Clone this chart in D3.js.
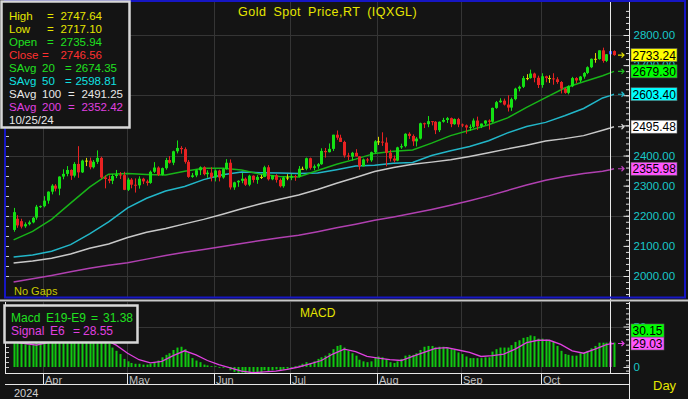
<!DOCTYPE html>
<html>
<head>
<meta charset="utf-8">
<script src="https://cdn.jsdelivr.net/npm/d3@7"></script>
<style>
html, body { margin: 0; padding: 0; background: #141414; }
svg { display: block; font-family: "Liberation Sans", Arial, sans-serif; }
</style>
</head>
<body>
<svg id="chart" width="688" height="399"></svg>
<script>
// Gold spot, daily bars Mar 20 - Oct 28 2024 (weekdays, "No Gaps")
var firstDay = new Date(Date.UTC(2024, 2, 20));
var endDay = new Date(Date.UTC(2024, 9, 29));   // exclusive
var cursorDay = 157;                              // 10/25/24

var open = [2153,2190,2182,2165,2172,2178,2194,2230,
  2232,2250,2280,2300,2290,2330,2339,2352,2333,2372,2344,2383,2383,2361,2379,2392,2327,2322,2316,2332,2337,2335,
  2286,2320,2303,2301,2323,2314,2309,2346,2360,2336,2358,2385,2376,2414,2425,2421,2379,2329,2334,2351,2361,2338,2343,
  2327,2350,2327,2355,2376,2294,2311,2316,2323,2303,2333,2319,2329,2329,2361,2321,2334,2319,2298,2327,
  2326,2332,2330,2356,2356,2391,2359,2364,2371,2415,2411,2422,2469,2459,2445,2400,2396,2409,2397,2364,2387,2384,2411,
  2447,2446,2443,2409,2390,2383,2427,2431,2472,2465,2447,2456,2507,2504,2514,2512,2484,2512,2518,2524,2504,2521,
  2503,2500,2493,2495,2516,2497,2506,2516,2512,2558,2577,2582,2569,2559,2587,2622,2628,2657,2657,2672,2658,
  2634,2663,2657,2656,2653,2644,2622,2608,2630,2657,2649,2662,2674,2693,2721,2720,2749,2714,2735.94,2746.56];
var high = [2226,2202,2190,2178,2184,2196,2236,2234,
  2265,2281,2305,2305,2331,2354,2365,2354,2378,2431,2386,2392,2393,2385,2417,2396,2334,2334,2338,2352,2345,2346,
  2326,2325,2324,2331,2326,2320,2350,2378,2364,2360,2392,2398,2416,2450,2431,2427,2385,2342,2354,2364,2364,2351,2361,
  2354,2353,2359,2388,2387,2313,2318,2342,2327,2336,2334,2335,2336,2366,2368,2335,2338,2324,2331,2338,
  2339,2336,2365,2363,2393,2393,2370,2375,2424,2425,2440,2469,2483,2469,2449,2409,2412,2421,2398,2390,2392,2413,2451,
  2462,2477,2460,2419,2400,2429,2439,2474,2477,2470,2461,2509,2509,2531,2514,2514,2513,2525,2528,2526,2523,2525,
  2506,2503,2503,2523,2529,2506,2517,2520,2559,2581,2590,2589,2600,2592,2625,2632,2664,2670,2685,2675,2665,
  2673,2665,2666,2673,2660,2647,2625,2633,2661,2660,2664,2677,2696,2722,2740,2749,2758,2737,2747.64,2749];
var low = [2147,2160,2158,2160,2168,2175,2187,2226,
  2228,2240,2271,2281,2268,2321,2331,2319,2327,2326,2342,2365,2354,2357,2372,2323,2291,2308,2305,2325,2322,2285,
  2282,2291,2277,2290,2305,2300,2306,2342,2332,2334,2353,2373,2368,2407,2406,2373,2326,2326,2328,2335,2334,2326,2314,
  2314,2314,2323,2353,2287,2286,2296,2308,2299,2298,2310,2306,2322,2328,2317,2318,2310,2294,2293,2318,
  2318,2316,2327,2352,2351,2353,2351,2356,2369,2393,2410,2415,2452,2445,2393,2385,2383,2397,2353,2364,2376,2379,2407,
  2435,2432,2364,2380,2377,2381,2422,2427,2455,2432,2430,2453,2491,2494,2500,2471,2478,2509,2508,2494,2502,2494,
  2494,2472,2482,2491,2485,2491,2501,2486,2509,2555,2575,2566,2546,2548,2583,2613,2624,2650,2655,2643,2624,
  2625,2643,2641,2635,2638,2606,2605,2603,2627,2640,2643,2655,2670,2690,2708,2718,2708,2710,2717.10,2731];
var close = [2212,2168,2164,2172,2178,2193,2230,2232,
  2250,2280,2300,2290,2330,2339,2352,2333,2372,2344,2383,2383,2361,2379,2392,2327,2322,2316,2332,2337,2335,2286,
  2320,2303,2301,2323,2314,2309,2346,2360,2336,2358,2385,2376,2414,2425,2421,2379,2329,2334,2351,2361,2338,2343,2327,
  2350,2327,2355,2376,2294,2311,2316,2323,2303,2333,2319,2329,2329,2361,2321,2334,2319,2298,2327,2326,
  2332,2330,2356,2356,2391,2359,2364,2371,2415,2411,2422,2469,2459,2445,2400,2396,2409,2397,2364,2387,2384,2411,2447,
  2446,2443,2409,2390,2383,2427,2431,2472,2465,2447,2456,2507,2504,2514,2512,2484,2512,2518,2524,2504,2521,2503,
  2500,2493,2495,2516,2497,2506,2516,2512,2558,2577,2582,2569,2559,2587,2622,2628,2657,2657,2672,2658,2634,
  2663,2657,2656,2653,2644,2622,2608,2630,2657,2649,2662,2674,2693,2721,2720,2749,2714,2736,2746.56,2733.24];

// simple averages, read every 5th bar plus the last two
var sma20 = [2120,2148,2188,2242,2295,2338,2340,2337,2335,2348,2358,2358,2352,2338,2330,2329,2350,2371,2388,2407,
  2414,2418,2441,2466,2484,2502,2525,2560,2592,2624,2645,2665,2674.35,2679.30];
var sma50 = [2063,2070,2082,2104,2140,2180,2226,2258,2282,2297,2320,2336,2345,2343,2342,2340,2342,2353,2365,2368,
  2374,2377,2400,2416,2430,2449,2475,2496,2510,2532,2556,2591,2598.81,2603.40];
var sma100 = [2043,2050,2059,2073,2092,2106,2128,2145,2158,2173,2188,2205,2223,2240,2255,2269,2287,2308,2327,2347,
  2360,2371,2378,2386,2397,2409,2422,2434,2448,2456,2466,2484,2491.25,2495.48];
var sma200 = [1980,1991,2002,2014,2026,2036,2044,2056,2068,2079,2088,2098,2108,2118,2127,2135,2147,2160,2172,2185,
  2196,2208,2221,2235,2250,2266,2284,2302,2318,2330,2340,2348,2352.42,2355.98];

// MACD E19-E9, one per bar
var macd = [34,33,30,28,27,27,30,32,
  33,35,38,39,41,42,43,41,42,39,40,39,36,34,34,
  31,30,29,24,20,16,10,
  7,5,4,4,3,3,4,6,8,12,
  15,17,21,24,25,22,17,11,8,6,
  3,2,1,1,-1,-1,0,
  -4,-6,-7,-7,-8,-7,-8,-8,-7,-4,-5,-4,-3,-4,-3,-2,-1,
  1,2,4,6,5,7,10,12,14,17,22,26,27,24,20,17,14,9,7,6,7,12,13,12,10,6,5,7,10,14,
  15,15,17,21,25,26,26,24,25,25,24,22,21,18,16,13,11,11,11,11,12,12,19,22,24,24,24,
  27,31,33,36,37,39,38,35,35,34,33,31,26,20,16,15,14,14,17,18,20,23,26,30,30,30,31.38,30.15];
// Signal E6, read every 3rd bar plus the last two
var signal = [31,29,27,30,35,39,40,38,34,27,17,9,5,7,14,20,15,8,3,-1,
  -5,-7,-6,-5,-3,0,4,8,16,22,19,13,11,9,8,13,18,23,24,21,
  18,13,14,16,22,30,33,33,28,20,17,22,27.5,28.55,29.03];

var priceTicks = [2000, 2100, 2200, 2300, 2400, 2500, 2600, 2700, 2800];
var priceGrid = [2000, 2200, 2400, 2600, 2800];
var macdTicks = [0, 50];
var monthNames = ["Jan","Feb","Mar","Apr","May","Jun","Jul","Aug","Sep","Oct","Nov","Dec"];

// ---------------------------------------------------------------
var dates = d3.utcDays(firstDay, endDay).filter(function(d) { return d.getUTCDay() % 6 !== 0; });
var last = dates.length - 1;
var maIdx = d3.range(0, 156, 5).concat([157, 158]);
var sigIdx = d3.range(0, 157, 3).concat([157, 158]);

var svg = d3.select("#chart");
var axisX = 629.5;
var gridCol = "#353535";

var x = d3.scalePoint().domain(d3.range(dates.length)).range([13.6, 614]);
var y = d3.scaleLinear().domain([2000, 2800]).range([276, 35]);
var ym = d3.scaleLinear().domain([0, 50]).range([367, 326.5]);

svg.append("rect").attr("width", 688).attr("height", 399).attr("fill", "#141414");

var defs = svg.append("defs");
defs.append("clipPath").attr("id", "clipP").append("rect")
  .attr("x", 6).attr("y", 2).attr("width", axisX - 6).attr("height", 295);
defs.append("clipPath").attr("id", "clipM").append("rect")
  .attr("x", 6).attr("y", 302).attr("width", axisX - 6).attr("height", 71);

var monthStarts = d3.range(1, dates.length).filter(function(i) {
  return dates[i].getUTCMonth() !== dates[i - 1].getUTCMonth();
});

// ---- price panel
var gp = svg.append("g").attr("clip-path", "url(#clipP)");

gp.selectAll(".hg").data(priceGrid).enter().append("line")
  .attr("x1", 6).attr("x2", axisX).attr("y1", function(d) { return Math.round(y(d)) + 0.5; })
  .attr("y2", function(d) { return Math.round(y(d)) + 0.5; })
  .attr("stroke", gridCol);
gp.selectAll(".vg").data(monthStarts).enter().append("line")
  .attr("x1", function(i) { return Math.round(x(i)) - 0.5; })
  .attr("x2", function(i) { return Math.round(x(i)) - 0.5; })
  .attr("y1", 2).attr("y2", 297).attr("stroke", gridCol);

var maLines = [
  {v: sma200, c: "#b040b0"},
  {v: sma100, c: "#c8c8c8"},
  {v: sma50, c: "#22b6c8"},
  {v: sma20, c: "#18b418"}
];
var maLine = d3.line().x(function(d) { return x(d[0]); }).y(function(d) { return y(d[1]); });
maLines.forEach(function(m) {
  gp.append("path")
    .attr("d", maLine(maIdx.map(function(idx, k) { return [idx, m.v[k]]; })))
    .attr("fill", "none").attr("stroke", m.c).attr("stroke-width", 1.5);
});

function candleColor(i) {
  if (i === cursorDay) return "#2848ff";
  var d = close[i] - open[i];
  if (Math.abs(d) < 2) return "#d8d800";
  return d > 0 ? "#14e014" : "#e82222";
}

var candles = gp.selectAll(".cd").data(d3.range(dates.length)).enter().append("g");
candles.append("line")
  .attr("x1", function(i) { return Math.round(x(i)) + 0.5; })
  .attr("x2", function(i) { return Math.round(x(i)) + 0.5; })
  .attr("y1", function(i) { return y(high[i]); })
  .attr("y2", function(i) { return y(low[i]); })
  .attr("stroke", candleColor);
candles.append("rect")
  .attr("x", function(i) { return Math.round(x(i)) - 1; })
  .attr("width", 3)
  .attr("y", function(i) { return y(Math.max(open[i], close[i])); })
  .attr("height", function(i) { return Math.max(1, y(Math.min(open[i], close[i])) - y(Math.max(open[i], close[i]))); })
  .attr("fill", candleColor);

// ---- macd panel
var gm = svg.append("g").attr("clip-path", "url(#clipM)");
gm.append("line").attr("x1", 6).attr("x2", axisX)
  .attr("y1", Math.round(ym(50)) + 0.5).attr("y2", Math.round(ym(50)) + 0.5).attr("stroke", gridCol);
gm.selectAll(".vg").data(monthStarts).enter().append("line")
  .attr("x1", function(i) { return Math.round(x(i)) - 0.5; })
  .attr("x2", function(i) { return Math.round(x(i)) - 0.5; })
  .attr("y1", 302).attr("y2", 373).attr("stroke", gridCol);

gm.selectAll(".mb").data(macd).enter().append("rect")
  .attr("x", function(d, i) { return Math.round(x(i)) - 0.5; })
  .attr("width", 2)
  .attr("y", function(d) { return ym(Math.max(d, 0)); })
  .attr("height", function(d) { return Math.abs(ym(d) - ym(0)); })
  .attr("fill", function(d, i) { return i === cursorDay ? "#e040e0" : "#10c810"; });

gm.append("path")
  .attr("d", d3.line().x(function(d) { return x(d[0]); }).y(function(d) { return ym(d[1]); })
    (sigIdx.map(function(idx, k) { return [idx, signal[k]]; })))
  .attr("fill", "none").attr("stroke", "#e040e0").attr("stroke-width", 1.3);

// cursor line
svg.append("line").attr("x1", Math.round(x(cursorDay)) + 0.5).attr("x2", Math.round(x(cursorDay)) + 0.5)
  .attr("y1", 2).attr("y2", 373).attr("stroke", "#e8e8e8");

// ---- frames
var blue = "#1616c4";
svg.append("line").attr("x1", 4).attr("x2", 686).attr("y1", 1).attr("y2", 1).attr("stroke", blue).attr("stroke-width", 2);
svg.append("line").attr("x1", 5).attr("x2", 5).attr("y1", 0).attr("y2", 298).attr("stroke", blue).attr("stroke-width", 2);
svg.append("line").attr("x1", 685).attr("x2", 685).attr("y1", 0).attr("y2", 298).attr("stroke", blue).attr("stroke-width", 2);
svg.append("line").attr("x1", 4).attr("x2", 686).attr("y1", 297.5).attr("y2", 297.5).attr("stroke", blue).attr("stroke-width", 2);
svg.append("line").attr("x1", 0).attr("x2", 688).attr("y1", 300.5).attr("y2", 300.5).attr("stroke", "#c8c8c8").attr("stroke-width", 2);

svg.append("line").attr("x1", 5.5).attr("x2", 5.5).attr("y1", 302).attr("y2", 374).attr("stroke", "#e8e8e8");
svg.append("line").attr("x1", 5).attr("x2", axisX).attr("y1", 373.5).attr("y2", 373.5).attr("stroke", "#e8e8e8");
svg.append("line").attr("x1", axisX).attr("x2", axisX).attr("y1", 2).attr("y2", 297).attr("stroke", "#e8e8e8");
svg.append("line").attr("x1", axisX).attr("x2", axisX).attr("y1", 302).attr("y2", 399).attr("stroke", "#e8e8e8");

// left edge ticks
svg.selectAll(".lt").data(d3.range(276, 4, -10)).enter().append("line")
  .attr("x1", 6).attr("x2", 9).attr("y1", function(d) { return d + 0.5; }).attr("y2", function(d) { return d + 0.5; })
  .attr("stroke", "#c8c8c8");
svg.selectAll(".lt2").data(d3.range(367, 303, -5)).enter().append("line")
  .attr("x1", 6).attr("x2", 9).attr("y1", function(d) { return d + 0.5; }).attr("y2", function(d) { return d + 0.5; })
  .attr("stroke", "#c8c8c8");

// ---- value tags (needed first so covered tick labels can be left out)
var tags = [
  {v: close[last], fill: "#ffff00", a: "#e0e000"},
  {v: sma20[sma20.length - 1], fill: "#00ff00", a: "#20c020"},
  {v: sma50[sma50.length - 1], fill: "#00ffff", a: "#22c0d0"},
  {v: sma100[sma100.length - 1], fill: "#ffffff", a: "#d8d8d8"},
  {v: sma200[sma200.length - 1], fill: "#ff55ff", a: "#c040c0"}
];
function covered(v) {
  return tags.some(function(t) { return Math.abs(y(t.v) - y(v)) < 5; });
}

// ---- right axes
var minorP = d3.range(1860, 2900, 20).filter(function(v) { return y(v) > 3 && y(v) < 296; });
svg.append("g").attr("transform", "translate(" + axisX + ",0)")
  .call(d3.axisRight(y).tickValues(minorP).tickSize(-3.5).tickFormat(""))
  .call(function(g) { g.select(".domain").remove(); g.selectAll("line").attr("stroke", "#e0e0e0"); });
svg.append("g").attr("transform", "translate(" + axisX + ",0)")
  .call(d3.axisRight(y).tickValues(priceTicks).tickSize(-6).tickPadding(4)
    .tickFormat(function(v) { return covered(v) ? "" : d3.format(".2f")(v); }))
  .call(function(g) {
    g.select(".domain").remove();
    g.selectAll("line").attr("stroke", "#e0e0e0");
    g.selectAll("text").attr("fill", "#18c8c8").attr("font-size", "11.5px")
      .attr("font-family", "'Liberation Sans', Arial, sans-serif");
  });

var minorM = d3.range(303, 372, 5.2).map(function(p) { return ym.invert(p); });
svg.append("g").attr("transform", "translate(" + axisX + ",0)")
  .call(d3.axisRight(ym).tickValues(minorM).tickSize(-3.5).tickFormat(""))
  .call(function(g) { g.select(".domain").remove(); g.selectAll("line").attr("stroke", "#e0e0e0"); });
svg.append("g").attr("transform", "translate(" + axisX + ",0)")
  .call(d3.axisRight(ym).tickValues(macdTicks).tickSize(-6).tickPadding(4).tickFormat(d3.format("d")))
  .call(function(g) {
    g.select(".domain").remove();
    g.selectAll("line").attr("stroke", "#e0e0e0");
    g.selectAll("text").attr("fill", "#18c8c8").attr("font-size", "11.5px")
      .attr("font-family", "'Liberation Sans', Arial, sans-serif");
  });

function tag(yy, arrowY, txt, fill, arrowCol, w) {
  if (arrowY !== null) {
    svg.append("path")
      .attr("d", "M618," + arrowY + "h6M621.5," + (arrowY - 2.5) + "l2.5,2.5l-2.5,2.5")
      .attr("stroke", arrowCol).attr("fill", "none").attr("stroke-width", 1.2);
  }
  svg.append("rect").attr("x", 631).attr("y", yy - 6.5).attr("width", w).attr("height", 13)
    .attr("fill", fill).attr("stroke", "#606060").attr("stroke-width", 0.6);
  svg.append("text").attr("x", 632.5).attr("y", yy + 4.5).text(txt)
    .attr("fill", "#000").attr("font-size", "12px");
}
tags.forEach(function(t) { tag(y(t.v), y(t.v), t.v.toFixed(2), t.fill, t.a, 46); });

var sigV = signal[signal.length - 1];
var sigY = ym(sigV);
var macdY = ym(macd[last]);
var macdTagY = Math.abs(macdY - sigY) < 13 ? sigY - 13 : macdY;
tag(sigY, sigY, sigV.toFixed(2), "#ff55ff", "#e040e0", 33);
tag(macdTagY, null, macd[last].toFixed(2), "#00ff00", null, 33);

// ---- date axis
var fmtMonth = function(i) { return monthNames[dates[i].getUTCMonth()]; };
svg.selectAll(".mt").data(monthStarts).enter().append("line")
  .attr("x1", function(i) { return Math.round(x(i)) - 0.5; })
  .attr("x2", function(i) { return Math.round(x(i)) - 0.5; })
  .attr("y1", 373).attr("y2", 385).attr("stroke", "#e8e8e8");
svg.selectAll(".ml").data(monthStarts).enter().append("text")
  .attr("x", function(i) { return Math.round(x(i)) + 1; })
  .attr("y", 384)
  .text(fmtMonth)
  .attr("fill", "#c0c0c0").attr("font-size", "11px");
svg.append("rect").attr("x", 6).attr("y", 385).attr("width", axisX - 6.5).attr("height", 14).attr("fill", "#141414");
svg.append("line").attr("x1", 5).attr("x2", axisX).attr("y1", 384.5).attr("y2", 384.5).attr("stroke", "#e8e8e8");
svg.append("text").attr("x", 14).attr("y", 397).text(d3.utcFormat("%Y")(dates[0]))
  .attr("fill", "#d0d0d0").attr("font-size", "11px");
svg.append("text").attr("x", 653).attr("y", 390).text("Day")
  .attr("fill", "#e6e600").attr("font-size", "13px");

// ---- titles
svg.append("text").attr("x", 238).attr("y", 16).text("Gold Spot Price,RT (IQXGL)")
  .attr("fill", "#e6e600").attr("font-size", "12.5px").attr("letter-spacing", "0.5px").attr("word-spacing", "3px");
svg.append("text").attr("x", 300).attr("y", 317).text("MACD")
  .attr("fill", "#e6e600").attr("font-size", "12px");
svg.append("text").attr("x", 14).attr("y", 295).text("No Gaps")
  .attr("fill", "#c8c800").attr("font-size", "11px");

// ---- price legend
svg.append("rect").attr("x", 1.5).attr("y", 1.5).attr("width", 128).attr("height", 126)
  .attr("fill", "#141414").attr("stroke", "#d8d8d8").attr("stroke-width", 2.5);
var c = cursorDay, k20 = maIdx.indexOf(cursorDay);
var legendRows = [
  {name: "High", num: "", val: high[c], col: "#e6e600"},
  {name: "Low", num: "", val: low[c], col: "#e6e600"},
  {name: "Open", num: "", val: open[c], col: "#20e020"},
  {name: "Close", num: "", val: close[c], col: "#ff3030"},
  {name: "SAvg", num: "20", val: sma20[k20], col: "#20e020"},
  {name: "SAvg", num: "50", val: sma50[k20], col: "#10e0e0"},
  {name: "SAvg", num: "100", val: sma100[k20], col: "#e8e8e8"},
  {name: "SAvg", num: "200", val: sma200[k20], col: "#e040e0"}
];
legendRows.forEach(function(r, i) {
  var by = 19.5 + i * 13.1;
  var eqX = r.num === "" ? (r.name === "Close" ? 42 : 47) : (r.num.length === 3 ? 68 : 65);
  var valEnd = r.num === "" ? 102 : (r.num.length === 3 ? 123 : 117);
  var g = svg.append("g").attr("fill", r.col).attr("font-size", "11.5px");
  g.append("text").attr("x", 9).attr("y", by).text(r.name);
  if (r.num) g.append("text").attr("x", 42).attr("y", by).text(r.num);
  g.append("text").attr("x", eqX).attr("y", by).text("=");
  g.append("text").attr("x", valEnd).attr("y", by).attr("text-anchor", "end").text(r.val.toFixed(2));
});
svg.append("text").attr("x", 9).attr("y", 19.5 + 8 * 13.1).text(d3.utcFormat("%m/%d/%y")(dates[c]))
  .attr("fill", "#e8e8e8").attr("font-size", "11.5px");

// ---- macd legend
svg.append("rect").attr("x", 4.5).attr("y", 305.5).attr("width", 133).attr("height", 37)
  .attr("fill", "#141414").attr("stroke", "#d8d8d8").attr("stroke-width", 2.5);
var ml1 = svg.append("g").attr("fill", "#20e020").attr("font-size", "12px");
ml1.append("text").attr("x", 11).attr("y", 322).text("Macd");
ml1.append("text").attr("x", 46).attr("y", 322).text("E19-E9");
ml1.append("text").attr("x", 91).attr("y", 322).text("=");
ml1.append("text").attr("x", 133).attr("y", 322).attr("text-anchor", "end").text(macd[c].toFixed(2));
var ml2 = svg.append("g").attr("fill", "#e040e0").attr("font-size", "12px");
ml2.append("text").attr("x", 11).attr("y", 335).text("Signal");
ml2.append("text").attr("x", 50).attr("y", 335).text("E6");
ml2.append("text").attr("x", 73).attr("y", 335).text("=");
ml2.append("text").attr("x", 113).attr("y", 335).attr("text-anchor", "end").text(signal[sigIdx.indexOf(c)].toFixed(2));
</script>
</body>
</html>
